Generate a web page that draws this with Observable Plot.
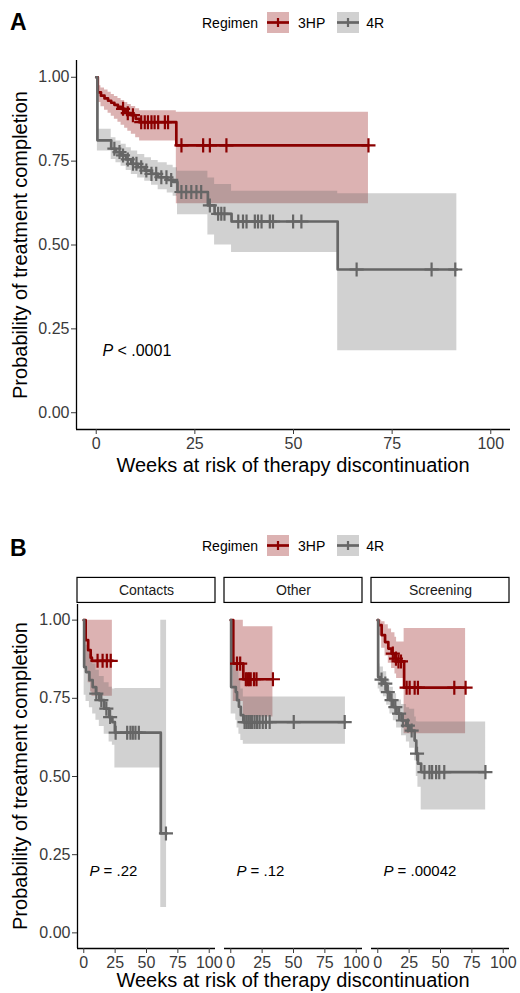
<!DOCTYPE html>
<html>
<head>
<meta charset="utf-8">
<script src="https://cdn.jsdelivr.net/npm/d3@7"></script>
<script src="https://cdn.jsdelivr.net/npm/@observablehq/plot@0.6"></script>
<style>
  html, body { margin: 0; padding: 0; background: #fff; }
  #wrap { position: relative; width: 520px; height: 993px; overflow: hidden; font-family: "Liberation Sans", Arial, sans-serif; color: #000; }
  .abs { position: absolute; white-space: nowrap; }
  .tag { font-weight: bold; font-size: 23px; line-height: 23px; }
  .legend { display: flex; align-items: center; height: 21px; font-size: 14px; }
  .xtitle { font-size: 20px; line-height: 20px; transform: translateX(-50%); }
  .ytitle { font-size: 20px; line-height: 20px; transform: translate(-50%, -50%) rotate(-90deg); }
  svg.key { display: block; }
</style>
</head>
<body>
<div id="wrap">
  <div id="plotA" class="abs" style="left:0;top:0"></div>
  <div id="plotB" class="abs" style="left:0;top:560px"></div>

  <div class="abs tag" style="left:10px;top:11px">A</div>
  <div class="abs tag" style="left:10px;top:537px">B</div>

  <div id="legendA" class="abs legend" style="left:202px;top:12px"></div>
  <div id="legendB" class="abs legend" style="left:202px;top:535px"></div>

  <div id="xtitleA" class="abs xtitle" style="left:293px;top:455px"></div>
  <div id="ytitleA" class="abs ytitle" style="left:20px;top:245px"></div>
  <div id="xtitleB" class="abs xtitle" style="left:293px;top:970px"></div>
  <div id="ytitleB" class="abs ytitle" style="left:20px;top:776px"></div>
</div>
<script>
// ---------------- DATA ----------------
const regimens = ["3HP", "4R"];
const facets = ["Contacts", "Other", "Screening"];
const xTicks = [0, 25, 50, 75, 100];
const yTicks = [0, 0.25, 0.5, 0.75, 1];
const xTitle = "Weeks at risk of therapy discontinuation";
const yTitle = "Probability of treatment completion";
const legendTitle = "Regimen";
const pValueA = ["< .0001"];
const pValuesB = ["= .22", "= .12", "= .00042"];

// Panel A: 3HP
const A_3HP_time  = [0, 0.4, 1.2, 2.1, 3, 3.8, 4.6, 5.5, 6.3, 7.2, 8, 8.9, 10, 11, 20.3, 69];
const A_3HP_surv  = [1, 0.955, 0.945, 0.937, 0.93, 0.924, 0.918, 0.912, 0.906, 0.9, 0.893, 0.887, 0.876, 0.866, 0.797, 0.797];
const A_3HP_upper = [1, 0.975, 0.968, 0.962, 0.955, 0.949, 0.943, 0.937, 0.931, 0.925, 0.919, 0.913, 0.906, 0.9, 0.896, 0.896];
const A_3HP_lower = [1, 0.925, 0.912, 0.902, 0.893, 0.884, 0.875, 0.866, 0.857, 0.848, 0.839, 0.83, 0.82, 0.81, 0.623, 0.623];
const A_3HP_censor = [6.8, 8, 9.3, 11.4, 12.3, 13.1, 14, 14.8, 15.7, 17.4, 18.2, 21.6, 27.1, 28.8, 33, 69];
// Panel A: 4R
const A_4R_time  = [0, 0.3, 3.8, 5, 6.3, 7.6, 8.9, 10.5, 12.3, 14, 15.7, 18, 19.5, 20.6, 28.3, 30, 34.3, 61.2, 91.4];
const A_4R_surv  = [1, 0.812, 0.787, 0.777, 0.767, 0.755, 0.742, 0.732, 0.722, 0.712, 0.702, 0.694, 0.688, 0.658, 0.618, 0.593, 0.57, 0.427, 0.427];
const A_4R_upper = [1, 0.845, 0.82, 0.81, 0.8, 0.79, 0.78, 0.77, 0.76, 0.752, 0.745, 0.738, 0.73, 0.72, 0.7, 0.68, 0.66, 0.653, 0.653];
const A_4R_lower = [1, 0.78, 0.755, 0.745, 0.735, 0.722, 0.71, 0.7, 0.69, 0.678, 0.665, 0.655, 0.645, 0.59, 0.53, 0.5, 0.478, 0.185, 0.185];
const A_4R_censor = [4.6, 5.9, 6.8, 8, 9.3, 10.2, 11.4, 12.7, 14, 15.2, 16.5, 17.8, 19, 21.6, 22.8, 24.1, 25.4, 26.6, 28.8, 30.9, 31.7, 32.5,
                     36, 37.2, 38.1, 40.2, 41, 41.9, 44, 44.8, 49.9, 52, 66, 85, 91];

// Panel B: Contacts
const C_3HP_time  = [0, 1.5, 3.5, 5.5, 6.5, 22.8];
const C_3HP_surv  = [1, 0.936, 0.904, 0.88, 0.87, 0.87];
const C_3HP_upper = [1, 1, 1, 1, 1, 1];
const C_3HP_lower = [1, 0.85, 0.8, 0.77, 0.757, 0.757];
const C_3HP_censor = [11, 15, 18.4, 21.5];
const C_4R_time  = [0, 0.3, 1.8, 4.5, 7.1, 9.7, 12.4, 16.3, 20.2, 22.8, 24.8, 61.4, 66];
const C_4R_surv  = [1, 0.85, 0.834, 0.808, 0.786, 0.765, 0.744, 0.717, 0.69, 0.674, 0.64, 0.318, 0.318];
const C_4R_upper = [1, 0.95, 0.92, 0.89, 0.86, 0.84, 0.82, 0.8, 0.785, 0.78, 0.781, 1, 1];
const C_4R_lower = [1, 0.76, 0.74, 0.72, 0.7, 0.68, 0.66, 0.635, 0.61, 0.6, 0.527, 0.081, 0.081];
const C_4R_censor = [10, 14, 18, 21, 25.4, 34.6, 37.2, 39.1, 41.2, 43.9, 65.5];

// Panel B: Other
const O_3HP_time  = [0, 2, 10, 33.6];
const O_3HP_surv  = [1, 0.861, 0.811, 0.811];
const O_3HP_upper = [1, 1, 0.979, 0.979];
const O_3HP_lower = [1, 0.74, 0.69, 0.69];
const O_3HP_censor = [5, 7.5, 12, 13.3, 14.6, 15.9, 18.5, 20.5, 33.6];
const O_4R_time  = [0, 0.3, 4, 5, 6.5, 8, 10, 91.4];
const O_4R_surv  = [1, 0.786, 0.77, 0.744, 0.723, 0.696, 0.674, 0.674];
const O_4R_upper = [1, 0.88, 0.86, 0.84, 0.81, 0.78, 0.754, 0.754];
const O_4R_lower = [1, 0.7, 0.68, 0.655, 0.635, 0.615, 0.603, 0.603];
const O_4R_censor = [11, 12.5, 14, 15.5, 17, 19, 21, 23, 25.5, 28, 31, 50.2, 90.8];

// Panel B: Screening
const S_3HP_time  = [0, 0.5, 3.1, 5.8, 8.4, 11, 13.7, 15, 21, 70];
const S_3HP_surv  = [1, 0.984, 0.952, 0.93, 0.909, 0.893, 0.877, 0.868, 0.784, 0.784];
const S_3HP_upper = [1, 1, 0.995, 0.985, 0.972, 0.96, 0.945, 0.93, 0.973, 0.973];
const S_3HP_lower = [1, 0.95, 0.91, 0.885, 0.862, 0.845, 0.828, 0.813, 0.637, 0.637];
const S_3HP_censor = [12, 14.5, 16.5, 18.5, 23, 25.4, 29.4, 32, 61, 70];
const S_4R_time  = [0, 0.3, 1.7, 4.5, 7.1, 9.7, 12.4, 15, 18.9, 22.8, 25.4, 29.4, 30.7, 32, 34.6, 86];
const S_4R_surv  = [1, 0.818, 0.81, 0.797, 0.77, 0.744, 0.722, 0.701, 0.679, 0.663, 0.647, 0.615, 0.573, 0.541, 0.514, 0.514];
const S_4R_upper = [1, 0.86, 0.85, 0.835, 0.81, 0.785, 0.765, 0.745, 0.73, 0.72, 0.715, 0.69, 0.675, 0.674, 0.674, 0.674];
const S_4R_lower = [1, 0.78, 0.77, 0.755, 0.728, 0.7, 0.678, 0.655, 0.63, 0.61, 0.59, 0.55, 0.5, 0.466, 0.393, 0.393];
const S_4R_censor = [3, 6, 8, 11, 14, 17, 20, 24, 27, 31.3, 37.2, 41.2, 43.3, 46.5, 49, 53, 85.8];

// ---------------- STYLE / LAYOUT ----------------
const colors = ["#8b0000", "#666666"];
const bandOpacity = 0.3;
const xDomain = [-5, 105];
const yDomain = [-0.05, 1.05];
const stripY = [1.055, 1.135];
const font = "'Liberation Sans', Arial, sans-serif";
const tickColor = "#3a3a3a";

// ---------------- BUILD ROWS ----------------
function curveRows(facet, regimen, time, surv, upper, lower) {
  return time.map((t, i) => ({facet, regimen, time: t, surv: surv[i], upper: upper[i], lower: lower[i]}));
}
function censorRows(facet, regimen, time, surv, censor) {
  return censor.map(t => ({facet, regimen, time: t, surv: surv[Math.max(0, d3.bisectRight(time, t) - 1)]}));
}

const curvesA = [
  ...curveRows("All", "3HP", A_3HP_time, A_3HP_surv, A_3HP_upper, A_3HP_lower),
  ...curveRows("All", "4R", A_4R_time, A_4R_surv, A_4R_upper, A_4R_lower)
];
const censA = [
  ...censorRows("All", "3HP", A_3HP_time, A_3HP_surv, A_3HP_censor),
  ...censorRows("All", "4R", A_4R_time, A_4R_surv, A_4R_censor)
];

const curvesB = [
  ...curveRows("Contacts", "3HP", C_3HP_time, C_3HP_surv, C_3HP_upper, C_3HP_lower),
  ...curveRows("Other", "3HP", O_3HP_time, O_3HP_surv, O_3HP_upper, O_3HP_lower),
  ...curveRows("Screening", "3HP", S_3HP_time, S_3HP_surv, S_3HP_upper, S_3HP_lower),
  ...curveRows("Contacts", "4R", C_4R_time, C_4R_surv, C_4R_upper, C_4R_lower),
  ...curveRows("Other", "4R", O_4R_time, O_4R_surv, O_4R_upper, O_4R_lower),
  ...curveRows("Screening", "4R", S_4R_time, S_4R_surv, S_4R_upper, S_4R_lower)
];
const censB = [
  ...censorRows("Contacts", "3HP", C_3HP_time, C_3HP_surv, C_3HP_censor),
  ...censorRows("Other", "3HP", O_3HP_time, O_3HP_surv, O_3HP_censor),
  ...censorRows("Screening", "3HP", S_3HP_time, S_3HP_surv, S_3HP_censor),
  ...censorRows("Contacts", "4R", C_4R_time, C_4R_surv, C_4R_censor),
  ...censorRows("Other", "4R", O_4R_time, O_4R_surv, O_4R_censor),
  ...censorRows("Screening", "4R", S_4R_time, S_4R_surv, S_4R_censor)
];
const facetRows = facets.map((f, i) => ({facet: f, p: pValuesB[i]}));

function survMarks(curves, cens, fx) {
  const f = fx ? {fx: "facet"} : {};
  return [
    Plot.areaY(curves, {...f, x: "time", y1: "lower", y2: "upper", z: "regimen", fill: "regimen", fillOpacity: bandOpacity, curve: "step-after"}),
    Plot.lineY(curves, {...f, x: "time", y: "surv", z: "regimen", stroke: "regimen", strokeWidth: 2.7, curve: "step-after"}),
    Plot.dot(cens, {...f, x: "time", y: "surv", stroke: "regimen", symbol: "plus", r: 4.6, strokeWidth: 2.2})
  ];
}

// ---------------- PANEL A ----------------
const plotA = Plot.plot({
  width: 520, height: 490,
  marginLeft: 76, marginRight: 10, marginTop: 60, marginBottom: 61,
  style: {fontFamily: font, fontSize: "16px", background: "transparent", overflow: "visible"},
  x: {domain: xDomain},
  y: {domain: yDomain},
  color: {domain: regimens, range: colors},
  marks: [
    ...survMarks(curvesA, censA, false),
    Plot.ruleX([xDomain[0]], {stroke: "black", strokeWidth: 1.3}),
    Plot.ruleY([yDomain[0]], {stroke: "black", strokeWidth: 1.3}),
    Plot.axisX({ticks: xTicks, tickSize: 5, tickPadding: 3, label: null, color: tickColor, fontSize: 16}),
    Plot.axisY({ticks: yTicks, tickFormat: d3.format(".2f"), tickSize: 5, tickPadding: 2, label: null, color: tickColor, fontSize: 16}),
    Plot.text(pValueA, {x: () => 1.6, y: () => 0.185, text: () => "P", fontStyle: "italic", textAnchor: "start", fontSize: 16, fill: "black"}),
    Plot.text(pValueA, {x: () => 1.6, y: () => 0.185, text: d => " " + d, dx: 10.5, textAnchor: "start", fontSize: 16, fill: "black"})
  ]
});
document.getElementById("plotA").appendChild(plotA);

// ---------------- PANEL B ----------------
const plotB = Plot.plot({
  width: 520, height: 433,
  marginLeft: 76, marginRight: 10, marginTop: 44, marginBottom: 45,
  style: {fontFamily: font, fontSize: "16px", background: "transparent", overflow: "visible"},
  fx: {domain: facets, paddingInner: 0.058, paddingOuter: 0, axis: null},
  x: {domain: xDomain},
  y: {domain: yDomain},
  color: {domain: regimens, range: colors},
  marks: [
    Plot.rect(facetRows, {fx: "facet", x1: () => xDomain[0], x2: () => xDomain[1], y1: () => stripY[0], y2: () => stripY[1], fill: "white", stroke: "black", strokeWidth: 1.2}),
    Plot.text(facetRows, {fx: "facet", x: () => (xDomain[0] + xDomain[1]) / 2, y: () => (stripY[0] + stripY[1]) / 2, text: "facet", fontSize: 14, fill: "#1a1a1a"}),
    ...survMarks(curvesB, censB, true),
    Plot.ruleX(facetRows.slice(0, 1), {fx: "facet", x: () => xDomain[0], stroke: "black", strokeWidth: 1.3}),
    Plot.ruleY([yDomain[0]], {stroke: "black", strokeWidth: 1.3}),
    Plot.axisX({ticks: xTicks, tickSize: 5, tickPadding: 3, label: null, color: tickColor, fontSize: 16}),
    Plot.axisY({ticks: yTicks, tickFormat: d3.format(".2f"), tickSize: 5, tickPadding: 2, label: null, color: tickColor, fontSize: 16}),
    Plot.text(facetRows, {fx: "facet", x: () => 4.5, y: () => 0.196, text: () => "P", fontStyle: "italic", textAnchor: "start", fontSize: 15, fill: "black"}),
    Plot.text(facetRows, {fx: "facet", x: () => 4.5, y: () => 0.196, text: d => " " + d.p, dx: 10, textAnchor: "start", fontSize: 15, fill: "black"})
  ]
});
document.getElementById("plotB").appendChild(plotB);

// ---------------- TITLES & LEGENDS ----------------
for (const id of ["xtitleA", "xtitleB"]) document.getElementById(id).textContent = xTitle;
for (const id of ["ytitleA", "ytitleB"]) document.getElementById(id).textContent = yTitle;

function buildLegend(el) {
  const title = document.createElement("span");
  title.textContent = legendTitle;
  el.appendChild(title);
  regimens.forEach((r, i) => {
    const c = colors[i];
    const svg = d3.create("svg").attr("class", "key").attr("width", 22).attr("height", 21)
      .style("margin-left", i === 0 ? "9px" : "12px");
    svg.append("rect").attr("width", 22).attr("height", 21).attr("fill", c).attr("fill-opacity", bandOpacity);
    svg.append("line").attr("x1", 0).attr("x2", 22).attr("y1", 10.5).attr("y2", 10.5).attr("stroke", c).attr("stroke-width", 2.7);
    svg.append("line").attr("x1", 11).attr("x2", 11).attr("y1", 6).attr("y2", 15).attr("stroke", c).attr("stroke-width", 2.2);
    el.appendChild(svg.node());
    const lab = document.createElement("span");
    lab.textContent = r;
    lab.style.marginLeft = i === 0 ? "9px" : "7px";
    el.appendChild(lab);
  });
}
buildLegend(document.getElementById("legendA"));
buildLegend(document.getElementById("legendB"));
</script>
</body>
</html>
